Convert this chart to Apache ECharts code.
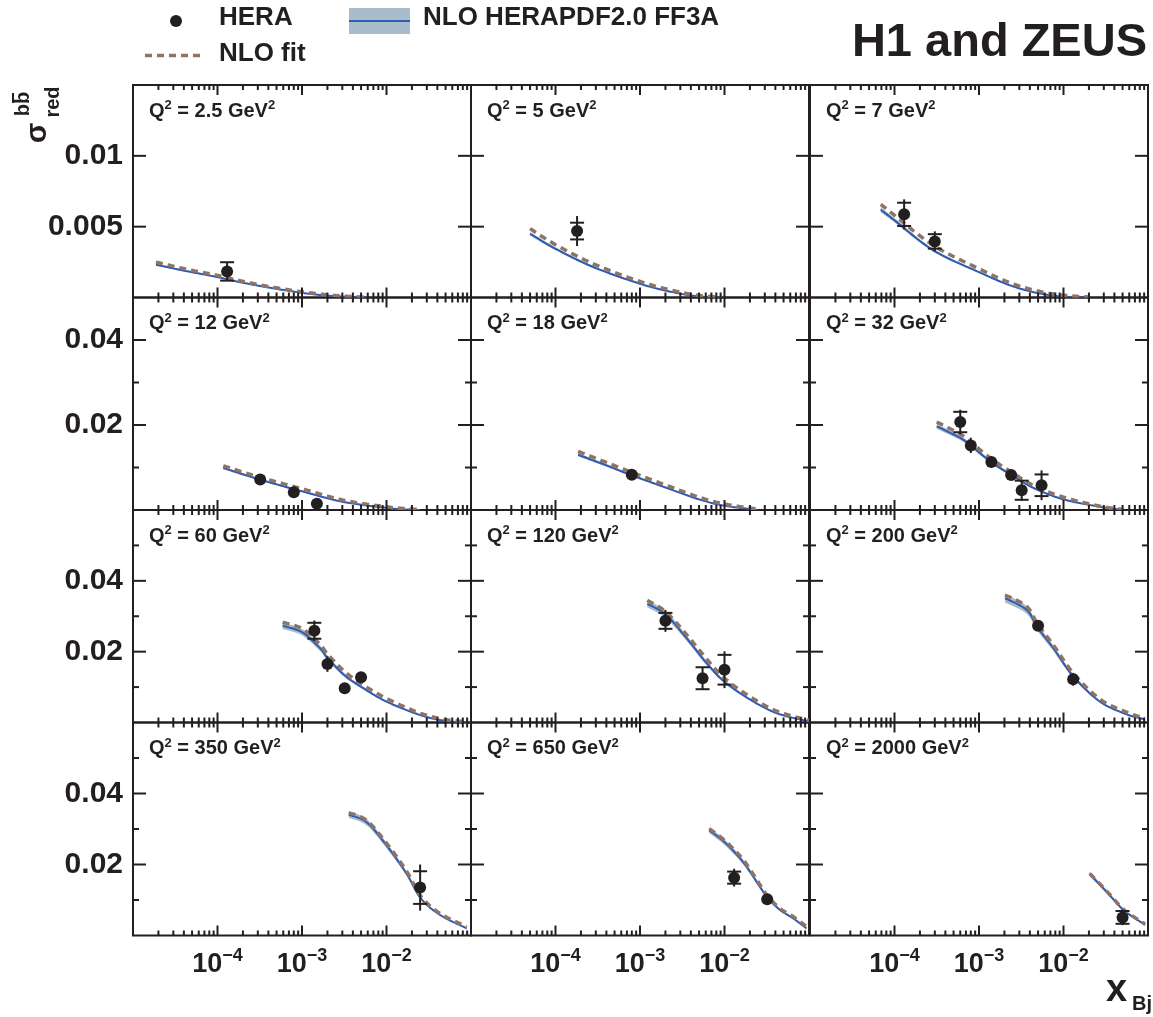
<!DOCTYPE html>
<html><head><meta charset="utf-8">
<script src="https://cdn.jsdelivr.net/npm/echarts@6.0.0/dist/echarts.min.js"></script>
<style>html,body{margin:0;padding:0;background:#fff}#c{width:1153px;height:1017px}</style>
</head><body><div id="c"></div>
<script>
// ---------- DATA ----------
const q2Values = ['2.5','5','7','12','18','32','60','120','200','350','650','2000'];

const heraX = [
  [1.3e-4],
  [1.8e-4],
  [1.3e-4, 3.0e-4],
  [3.2e-4, 8.0e-4, 1.5e-3],
  [8.0e-4],
  [6.0e-4, 8.0e-4, 1.4e-3, 2.4e-3, 3.2e-3, 5.5e-3],
  [1.4e-3, 2.0e-3, 3.2e-3, 5.0e-3],
  [2.0e-3, 5.5e-3, 1.0e-2],
  [5.0e-3, 1.3e-2],
  [2.5e-2],
  [1.3e-2, 3.2e-2],
  [5.0e-2]
];
const heraY = [
  [0.00184],
  [0.00469],
  [0.00587, 0.00396],
  [0.00716, 0.00418, 0.00146],
  [0.0083],
  [0.0207, 0.0152, 0.0113, 0.00826, 0.00465, 0.00582],
  [0.0259, 0.0165, 0.00965, 0.0128],
  [0.0287, 0.0125, 0.0149],
  [0.0273, 0.0122],
  [0.0135],
  [0.0163, 0.0102],
  [0.0051]
];
const heraStatErr = [
  [0.00065],
  [0.00059],
  [0.00082, 0.00051],
  [0.0004, 0.0003, 0.0003],
  [0.0004],
  [0.0024, 0.0010, 0.0007, 0.0007, 0.00225, 0.00255],
  [0.00225, 0.0012, 0.0007, 0.0009],
  [0.00225, 0.0031, 0.0042],
  [0.0008, 0.0012],
  [0.0046],
  [0.0017, 0.0008],
  [0.0018]
];
const heraTotErr = [
  [0.00065],
  [0.00106],
  [0.00106, 0.00071],
  [0.0006, 0.0005, 0.0005],
  [0.0007],
  [0.0029, 0.0018, 0.0010, 0.0010, 0.0025, 0.0035],
  [0.0029, 0.0022, 0.0010, 0.0012],
  [0.0031, 0.0032, 0.0052],
  [0.0012, 0.0018],
  [0.0065],
  [0.0025, 0.0010],
  [0.0022]
];

const curveX = [
  [1.87e-5, 4.32e-5, 1.0e-4, 1.85e-4, 3.82e-4, 1.0e-3, 2.34e-3, 5.8e-3],
  [5.0e-5, 1.0e-4, 2.8e-4, 1.0e-3, 2.43e-3, 5.0e-3, 9.3e-3],
  [6.87e-5, 1.0e-4, 2.88e-4, 1.0e-3, 2.69e-3, 7.3e-3, 2.0e-2],
  [1.17e-4, 3.18e-4, 1.0e-3, 3.09e-3, 1.0e-2, 1.48e-2, 2.5e-2],
  [1.85e-4, 4.0e-4, 7.9e-4, 2.0e-3, 5.0e-3, 1.0e-2, 2.5e-2],
  [3.16e-4, 6.07e-4, 7.94e-4, 1.39e-3, 2.39e-3, 4.4e-3, 1.0e-2, 2.7e-2, 5.1e-2],
  [5.9e-4, 1.0e-3, 1.63e-3, 2.01e-3, 3.16e-3, 4.99e-3, 1.0e-2, 2.51e-2, 5.13e-2, 8.9e-2],
  [1.22e-3, 2.03e-3, 3.56e-3, 6.17e-3, 1.0e-2, 2.0e-2, 4.17e-2, 1.0e-1],
  [2.03e-3, 3.66e-3, 4.94e-3, 7.57e-3, 1.31e-2, 2.7e-2, 5.6e-2, 9.2e-2],
  [3.58e-3, 5.83e-3, 1.0e-2, 1.72e-2, 2.54e-2, 4.3e-2, 8.9e-2],
  [6.6e-3, 1.0e-2, 1.66e-2, 2.63e-2, 3.24e-2, 4.54e-2, 6.53e-2, 9.33e-2],
  [2.04e-2, 3.24e-2, 5.0e-2, 6.76e-2, 9.23e-2]
];
const herapdfY = [
  [0.00231, 0.00186, 0.00144, 0.00108, 0.00073, 0.00033, 0.0001, 0.0],
  [0.0045, 0.00344, 0.00215, 0.00097, 0.00038, 0.00007, 0.0],
  [0.0062, 0.00545, 0.00333, 0.00179, 0.00073, 0.00014, 0.0],
  [0.0099, 0.00716, 0.0044, 0.0019, 0.0005, 0.0002, 0.0],
  [0.013, 0.0105, 0.0082, 0.0053, 0.0025, 0.001, 0.0],
  [0.0197, 0.0169, 0.0152, 0.0113, 0.0083, 0.0052, 0.0025, 0.00075, 0.0],
  [0.0273, 0.0255, 0.021, 0.0182, 0.0134, 0.0101, 0.0059, 0.0021, 0.0004, 0.0],
  [0.0335, 0.0304, 0.0238, 0.0167, 0.0115, 0.0065, 0.0026, 0.0003],
  [0.0351, 0.0318, 0.0268, 0.021, 0.013, 0.0059, 0.0023, 0.0009],
  [0.034, 0.0319, 0.0254, 0.0175, 0.0105, 0.0058, 0.002],
  [0.0296, 0.0263, 0.0207, 0.0137, 0.0106, 0.0072, 0.0048, 0.002],
  [0.0173, 0.0123, 0.0074, 0.0051, 0.003]
];
const fitY = [
  [0.0025, 0.00199, 0.00156, 0.00118, 0.0008, 0.0004, 0.00015, 0.00002],
  [0.00486, 0.00373, 0.00238, 0.00113, 0.0005, 0.00014, 0.00002],
  [0.00658, 0.0058, 0.00368, 0.00203, 0.0009, 0.00026, 0.00003],
  [0.0104, 0.0077, 0.005, 0.0023, 0.00075, 0.0004, 0.0001],
  [0.0138, 0.0112, 0.0089, 0.0059, 0.003, 0.0014, 0.0002],
  [0.0207, 0.0178, 0.016, 0.0121, 0.009, 0.0058, 0.003, 0.0009, 0.0001],
  [0.0283, 0.0265, 0.0221, 0.0193, 0.0145, 0.011, 0.0068, 0.0026, 0.0008, 0.0002],
  [0.0345, 0.0312, 0.0248, 0.0179, 0.0125, 0.0073, 0.0032, 0.0006],
  [0.036, 0.0328, 0.0278, 0.0219, 0.0139, 0.0066, 0.0029, 0.0012],
  [0.0346, 0.0324, 0.026, 0.0182, 0.0111, 0.0062, 0.0025],
  [0.0301, 0.0268, 0.0214, 0.0143, 0.0111, 0.0076, 0.0053, 0.0025],
  [0.0175, 0.0125, 0.0076, 0.0053, 0.0032]
];
const herapdfUnc = [
  [0.00006, 0.00005, 0.00004, 0.00003, 0.00003, 0.00002, 0.00001, 0.0],
  [0.00012, 0.0001, 0.00007, 0.00004, 0.00002, 0.00001, 0.0],
  [0.00018, 0.00015, 0.0001, 0.00006, 0.00003, 0.00001, 0.0],
  [0.0003, 0.00025, 0.00018, 0.0001, 0.00004, 0.00002, 0.0],
  [0.0004, 0.0003, 0.00025, 0.00018, 0.0001, 0.00005, 0.0],
  [0.0006, 0.0005, 0.0005, 0.0004, 0.0003, 0.0002, 0.0001, 0.00004, 0.0],
  [0.0009, 0.0009, 0.0008, 0.0007, 0.0005, 0.0004, 0.0002, 0.0001, 0.00003, 0.0],
  [0.001, 0.001, 0.0008, 0.0006, 0.0004, 0.0002, 0.0001, 0.00002],
  [0.0012, 0.0011, 0.001, 0.0008, 0.0006, 0.0003, 0.0001, 0.00005],
  [0.0009, 0.0009, 0.0008, 0.0006, 0.0004, 0.0002, 0.0001],
  [0.0008, 0.0008, 0.0007, 0.0005, 0.0004, 0.0003, 0.0002, 0.0001],
  [0.0006, 0.0005, 0.0003, 0.0002, 0.0001]
];

const xTickExponents = [-4, -3, -2];
const yTickLabels = [['0.005', '0.01'], ['0.02', '0.04'], ['0.02', '0.04'], ['0.02', '0.04']];
const yMajorTicks = [[0.005, 0.01], [0.02, 0.04], [0.02, 0.04], [0.02, 0.04]];
const yMinorTicks = [[], [0.01, 0.03], [0.01, 0.03, 0.05], [0.01, 0.03, 0.05]];
const yMax = [0.015, 0.05, 0.06, 0.06];
const yStep = [0.005, 0.01, 0.01, 0.01];

// ---------- STYLE / LAYOUT ----------
const ink = '#231f20';
const bandColor = '#a9bccb';
const blueColor = '#2f5bb5';
const fitColor = '#8f7464';
const FONT = '"Liberation Sans", Arial, Helvetica, sans-serif';
const colLeft = [133, 471, 810], colW = 338;
const rowTop = [85, 297.5, 510, 722.5], rowH = [212.5, 212.5, 212.5, 213];

const xMajorTicks = [1e-4, 1e-3, 1e-2];
const xMinorTicks = [];
[-5, -4, -3, -2].forEach(k => { for (let m = 2; m <= 9; m++) xMinorTicks.push(m * Math.pow(10, k)); });

function fmtX(v) {
  const e = Math.round(Math.log10(v));
  return xTickExponents.indexOf(e) >= 0 ? '{b|10}{s|\u2212' + (-e) + '}' : '';
}
function fmtY(v, r) {
  const l = yTickLabels[r].find(t => Math.abs(Number(t) - v) < 1e-9);
  return l || '';
}

// Smooth (Catmull-Rom) rendering of a curve through pixel points
function splinePixels(pts) {
  const out = [pts[0]];
  const k = 1 / 6, steps = 14;
  for (let j = 0; j < pts.length - 1; j++) {
    const p0 = pts[j - 1] || pts[j], p1 = pts[j], p2 = pts[j + 1], p3 = pts[j + 2] || pts[j + 1];
    const c1 = [p1[0] + (p2[0] - p0[0]) * k, p1[1] + (p2[1] - p0[1]) * k];
    const c2 = [p2[0] - (p3[0] - p1[0]) * k, p2[1] - (p3[1] - p1[1]) * k];
    for (let s = 1; s <= steps; s++) {
      const t = s / steps, u = 1 - t;
      out.push([
        u * u * u * p1[0] + 3 * u * u * t * c1[0] + 3 * u * t * t * c2[0] + t * t * t * p2[0],
        u * u * u * p1[1] + 3 * u * u * t * c1[1] + 3 * u * t * t * c2[1] + t * t * t * p2[1]
      ]);
    }
  }
  return out;
}

function curveRenderer(i) {
  return function (params, api) {
    const X = curveX[i], B = herapdfY[i], F = fitY[i], U = herapdfUnc[i];
    const up = splinePixels(X.map((x, j) => api.coord([x, B[j] + U[j]])));
    const lo = splinePixels(X.map((x, j) => api.coord([x, B[j] - U[j]])));
    const mid = splinePixels(X.map((x, j) => api.coord([x, B[j]])));
    const fit = splinePixels(X.map((x, j) => api.coord([x, F[j]])));
    return { type: 'group', children: [
      { type: 'polygon', shape: { points: up.concat(lo.reverse()) }, style: { fill: bandColor } },
      { type: 'polyline', shape: { points: mid }, style: { stroke: blueColor, lineWidth: 2, fill: null } },
      { type: 'polyline', shape: { points: fit }, style: { stroke: fitColor, lineWidth: 3.5, lineDash: [7, 5], fill: null } }
    ] };
  };
}

function tickRenderer(r) {
  return function (params, api) {
    const cs = params.coordSys;
    const bottom = cs.y + cs.height, top = cs.y, left = cs.x, right = cs.x + cs.width;
    const ch = [];
    const add = (x1, y1, x2, y2) => ch.push({ type: 'line', shape: { x1, y1, x2, y2 }, style: { stroke: ink, lineWidth: 2 } });
    xMajorTicks.forEach(v => { const p = api.coord([v, 0.001])[0]; add(p, bottom, p, bottom - 10); add(p, top, p, top + 10); });
    xMinorTicks.forEach(v => { const p = api.coord([v, 0.001])[0]; add(p, bottom, p, bottom - 5); add(p, top, p, top + 5); });
    yMajorTicks[r].forEach(v => { const q = api.coord([1e-3, v])[1]; add(left, q, left + 13, q); add(right, q, right - 13, q); });
    yMinorTicks[r].forEach(v => { const q = api.coord([1e-3, v])[1]; add(left, q, left + 6, q); add(right, q, right - 6, q); });
    return { type: 'group', children: ch };
  };
}

function errRenderer(params, api) {
  const x = api.value(0), y = api.value(1), s = api.value(2), t = api.value(3);
  const p = api.coord([x, y]);
  const pt = api.coord([x, y + t])[1], pb = api.coord([x, y - t])[1];
  const ps = api.coord([x, y + s])[1], pbs = api.coord([x, y - s])[1];
  const st = { stroke: ink, lineWidth: 2 };
  const ch = [{ type: 'line', shape: { x1: p[0], y1: pt, x2: p[0], y2: pb }, style: st }];
  if ((pbs - ps) / 2 > 5) {
    ch.push({ type: 'line', shape: { x1: p[0] - 7, y1: ps, x2: p[0] + 7, y2: ps }, style: st });
    ch.push({ type: 'line', shape: { x1: p[0] - 7, y1: pbs, x2: p[0] + 7, y2: pbs }, style: st });
  }
  return { type: 'group', children: ch };
}

const grid = [], xAxis = [], yAxis = [], series = [], graphic = [];
for (let i = 0; i < 12; i++) {
  const r = Math.floor(i / 3), c = i % 3;
  grid.push({ left: colLeft[c], top: rowTop[r], width: colW, height: rowH[r], show: true,
    borderColor: ink, borderWidth: 2, backgroundColor: 'rgba(0,0,0,0)' });
  xAxis.push({ gridIndex: i, type: 'log', logBase: 10, min: 1e-5, max: 1e-1,
    axisLine: { show: false }, axisTick: { show: false }, splitLine: { show: false }, minorTick: { show: false },
    axisLabel: { show: r === 3, margin: 12, formatter: fmtX, showMinLabel: true, showMaxLabel: true,
      rich: { b: { fontSize: 27, fontWeight: 'bold', fontFamily: FONT, color: ink, lineHeight: 34 },
              s: { fontSize: 18, fontWeight: 'bold', fontFamily: FONT, color: ink, lineHeight: 14, verticalAlign: 'top' } } } });
  yAxis.push({ gridIndex: i, type: 'value', min: 0, max: yMax[r], interval: yStep[r],
    axisLine: { show: false }, axisTick: { show: false }, splitLine: { show: false },
    axisLabel: { show: c === 0, margin: 10, formatter: (v) => fmtY(v, r), color: ink, fontSize: 30, fontWeight: 'bold', fontFamily: FONT } });

  series.push({ type: 'custom', xAxisIndex: i, yAxisIndex: i, renderItem: curveRenderer(i), clip: true, silent: true, z: 2,
    data: [[curveX[i][0], herapdfY[i][0]]] });
  series.push({ type: 'custom', xAxisIndex: i, yAxisIndex: i, renderItem: errRenderer, silent: true, z: 4,
    data: heraX[i].map((x, j) => [x, heraY[i][j], heraStatErr[i][j], heraTotErr[i][j]]) });
  series.push({ type: 'scatter', xAxisIndex: i, yAxisIndex: i, symbol: 'circle', symbolSize: 12, silent: true, z: 5,
    itemStyle: { color: ink, opacity: 1 }, data: heraX[i].map((x, j) => [x, heraY[i][j]]) });
  series.push({ type: 'custom', xAxisIndex: i, yAxisIndex: i, renderItem: tickRenderer(r), silent: true, z: 6, data: [[1e-3, 0.001]] });

  graphic.push({ type: 'text', x: colLeft[c] + 16, y: rowTop[r] + 14, z: 10,
    style: { text: '{b|Q}{s|2}{b| = ' + q2Values[i] + ' GeV}{s|2}', align: 'left', verticalAlign: 'top',
      rich: { b: { fontSize: 20, fontWeight: 'bold', fontFamily: FONT, fill: ink, lineHeight: 24 },
              s: { fontSize: 13, fontWeight: 'bold', fontFamily: FONT, fill: ink, lineHeight: 11, verticalAlign: 'top' } } } });
}

// legend + titles
const T = (x, y, text, size, extra) => Object.assign({ type: 'text', x, y, z: 10,
  style: Object.assign({ text, font: 'bold ' + size + 'px ' + FONT, fill: ink, align: 'left', verticalAlign: 'middle' }, extra || {}) });
graphic.push({ type: 'circle', shape: { cx: 176, cy: 21, r: 6 }, style: { fill: ink } });
graphic.push(T(219, 18, 'HERA', 26));
graphic.push({ type: 'line', shape: { x1: 145, y1: 55.5, x2: 205, y2: 55.5 }, style: { stroke: fitColor, lineWidth: 3.5, lineDash: [7, 5] } });
graphic.push(T(219, 54, 'NLO fit', 26));
graphic.push({ type: 'rect', shape: { x: 349, y: 8, width: 61, height: 26 }, style: { fill: bandColor } });
graphic.push({ type: 'line', shape: { x1: 349, y1: 21, x2: 410, y2: 21 }, style: { stroke: blueColor, lineWidth: 2 } });
graphic.push(T(423, 18, 'NLO HERAPDF2.0 FF3A', 26));
graphic.push(T(1147, 43, 'H1 and ZEUS', 47, { align: 'right' }));
// y title (rotated)
graphic.push(Object.assign(T(38, 133, 'σ', 30, { align: 'center' }), { rotation: Math.PI / 2 }));
graphic.push(Object.assign(T(23, 104, 'bb', 20, { align: 'center' }), { rotation: Math.PI / 2 }));
graphic.push({ type: 'line', shape: { x1: 13, y1: 93, x2: 13, y2: 103 }, style: { stroke: ink, lineWidth: 2 } });
graphic.push(Object.assign(T(53, 102, 'red', 20, { align: 'center' }), { rotation: Math.PI / 2 }));
// x title
graphic.push(T(1106, 991, 'x', 38));
graphic.push(T(1132, 1004, 'Bj', 20));

const chart = echarts.init(document.getElementById('c'), null, { renderer: 'canvas' });
chart.setOption({ backgroundColor: '#ffffff', animation: false, grid, xAxis, yAxis, series, graphic });
</script></body></html>
